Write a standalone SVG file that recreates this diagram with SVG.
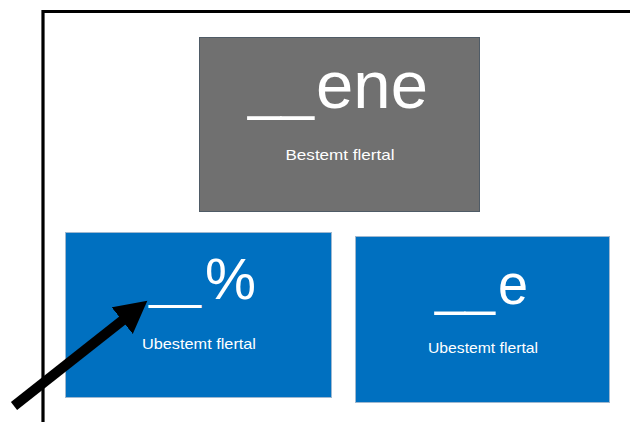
<svg xmlns="http://www.w3.org/2000/svg" width="630" height="422" viewBox="0 0 630 422">
  <defs>
    <style>
      .big { font-family: "Liberation Sans", Arial, sans-serif; fill: #ffffff; }
      .small { font-family: "Liberation Sans", Arial, sans-serif; fill: #ffffff; font-size: 15px; text-anchor: middle; }
      .blue { fill: #0070c0; stroke: #9fb8d0; stroke-width: 1; }
      .gray { fill: #707070; stroke: #4f5b66; stroke-width: 1; }
    </style>
    <marker id="head" markerUnits="userSpaceOnUse" markerWidth="40" markerHeight="40" refX="1" refY="17" orient="auto">
      <polygon points="0,0 32,17 0,34" fill="#000000"/>
    </marker>
  </defs>
  <rect width="630" height="422" fill="#ffffff"/>
  <g id="frame">
    <polyline points="43,422 43,11.5 630,11.5" fill="none" stroke="#000000" stroke-width="3.2"/>
  </g>
  <g id="node-bestemt">
    <rect class="gray" x="199.5" y="37.5" width="280" height="174"/>
    <text class="big" y="108"><tspan x="248" font-size="59" textLength="66" lengthAdjust="spacingAndGlyphs">__</tspan><tspan x="316" font-size="66" textLength="112" lengthAdjust="spacingAndGlyphs">ene</tspan></text>
    <text class="small" x="340" y="160" textLength="109" lengthAdjust="spacingAndGlyphs">Bestemt flertal</text>
  </g>
  <g id="node-ubestemt-1">
    <rect class="blue" x="65.5" y="232.5" width="266" height="165"/>
    <text class="big" y="299"><tspan x="149" font-size="47" textLength="52" lengthAdjust="spacingAndGlyphs">__</tspan><tspan x="205" font-size="58" textLength="51" lengthAdjust="spacingAndGlyphs">%</tspan></text>
    <text class="small" x="199" y="349" textLength="114" lengthAdjust="spacingAndGlyphs">Ubestemt flertal</text>
  </g>
  <g id="node-ubestemt-2">
    <rect class="blue" x="355.5" y="236.5" width="254" height="166"/>
    <text class="big" y="304"><tspan x="435" font-size="54" textLength="60" lengthAdjust="spacingAndGlyphs">__</tspan><tspan x="498" font-size="58" textLength="30" lengthAdjust="spacingAndGlyphs">e</tspan></text>
    <text class="small" x="483" y="353" textLength="110" lengthAdjust="spacingAndGlyphs">Ubestemt flertal</text>
  </g>
  <g id="connectors">
    <line x1="14" y1="406" x2="123" y2="320" stroke="#000000" stroke-width="10" marker-end="url(#head)"/>
  </g>
</svg>
